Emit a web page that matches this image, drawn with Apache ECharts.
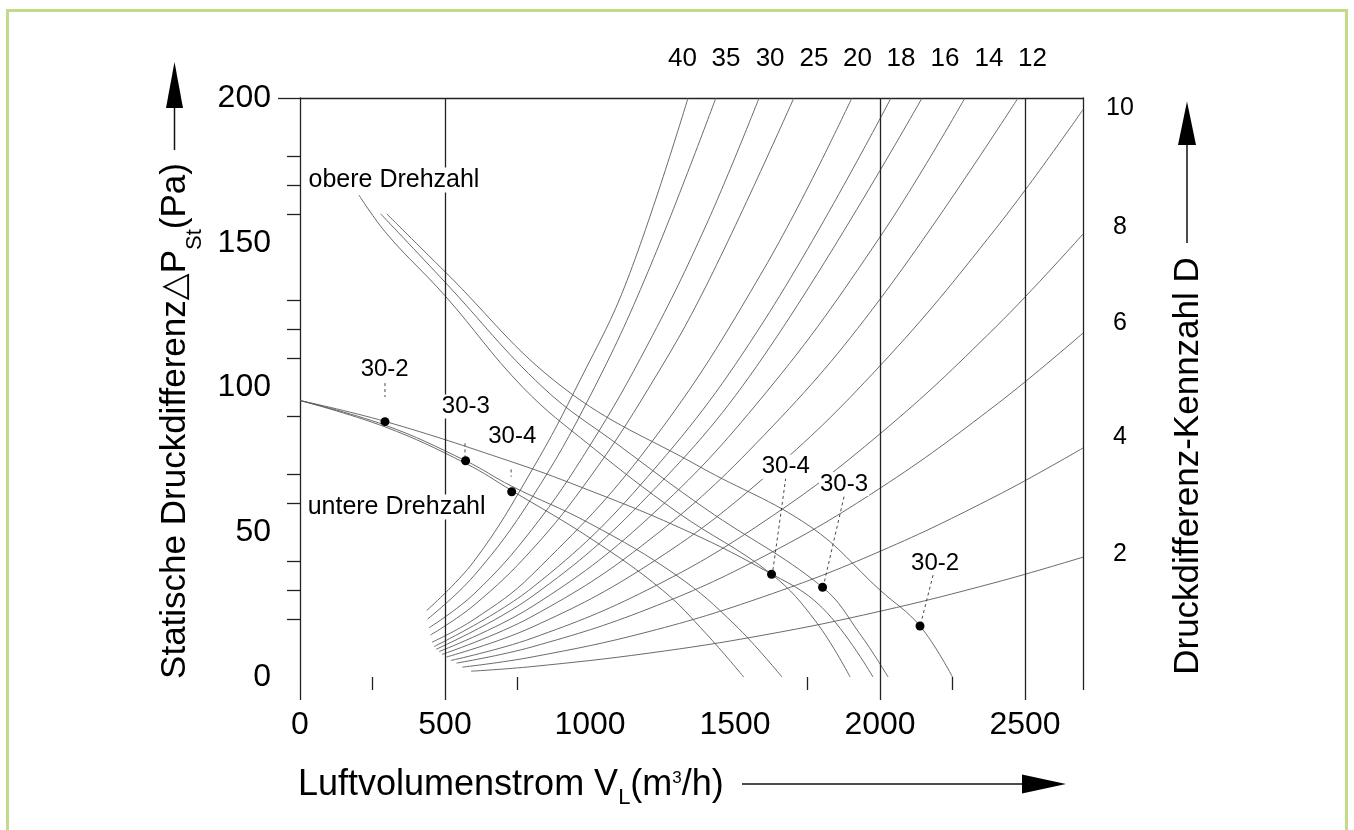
<!DOCTYPE html>
<html>
<head>
<meta charset="utf-8">
<script src="https://cdn.jsdelivr.net/npm/echarts@6/dist/echarts.min.js"></script>
<style>
  html, body { margin: 0; padding: 0; background: #fff; overflow: hidden; }
  #frame { position: absolute; left: 6px; top: 9px; width: 1342px; height: 900px; box-sizing: border-box; border: 3px solid #c3da88; border-bottom: none; }
  #chart { position: absolute; left: 0; top: 0; width: 1354px; height: 830px; }
</style>
</head>
<body>
<div id="frame"></div>
<div id="chart"></div>
<script>
(function () {
  // axis ticks / labels
  const xLabelValues = [0, 500, 1000, 1500, 2000, 2500];
  const xLongTicks = [0, 500, 2000, 2500];
  const xShortTicks = [250, 750, 1750, 2250, 2700];
  const xGridLines = [500, 2000, 2500];
  const yMinorTicks = [180, 170, 160, 130, 120, 110, 90, 70, 60, 40, 30, 20];
  const topLabels = ['40', '35', '30', '25', '20', '18', '16', '14', '12'];
  const topLabelPos = [1319, 1469, 1621, 1772, 1922, 2072, 2224, 2376, 2526];
  const rightLabels = ['10', '8', '6', '4', '2'];
  const rightLabelPos = [196.6, 155.4, 122.1, 82.7, 42.6];

  // system curves (Druckdifferenz-Kennzahl D), [V m3/h, dp Pa]
  const sys40 = [[437, 23], [600, 40], [800, 71.5], [966, 102.6], [1128, 137], [1338, 200]];
  const sys35 = [[440, 20], [600, 35], [800, 62], [1000, 97], [1200, 140], [1434, 200]];
  const sys30 = [[445, 17], [600, 28.7], [800, 51], [1000, 80], [1200, 115], [1400, 156], [1583, 200]];
  const sys25 = [[450, 14.5], [600, 24.8], [800, 44], [1000, 69], [1200, 99.4], [1400, 135], [1703, 200]];
  const sys20 = [[455, 12], [600, 19.9], [800, 35.3], [1200, 79.5], [1600, 141], [1903, 200]];
  const sys18 = [[462, 10.5], [800, 30.8], [1200, 69.3], [1600, 123], [2038, 200]];
  const sys16 = [[470, 9.6], [800, 27.8], [1200, 62.6], [1600, 111], [2145, 200]];
  const sys14 = [[480, 8.8], [800, 24.3], [1200, 54.8], [1600, 97.4], [2000, 152], [2293, 200]];
  const sys12 = [[490, 7.8], [800, 20.9], [1200, 47], [1600, 83.5], [2000, 130.5], [2476, 200]];
  const sys10 = [[505, 6.9], [800, 17.2], [1200, 38.7], [1600, 68.8], [2000, 107.5], [2400, 155], [2700, 196]];
  const sys8 = [[520, 5.7], [800, 13.4], [1200, 30.2], [1600, 53.7], [2000, 84], [2400, 121], [2700, 153]];
  const sys6 = [[540, 4.8], [800, 10.4], [1200, 23.5], [1600, 41.7], [2000, 65.2], [2400, 94], [2700, 118.8]];
  const sys4 = [[560, 3.4], [800, 6.9], [1200, 15.6], [1600, 27.8], [2000, 43.4], [2400, 62.5], [2700, 79.1]];
  const sys2 = [[590, 2], [800, 3.6], [1200, 8.2], [1600, 14.5], [2000, 22.7], [2400, 32.7], [2700, 41.4]];

  // fan curves
  const upper30_2 = [[299, 160], [500, 140], [907, 100], [1379, 72.6], [1759, 52], [2000, 30], [2138, 17.6], [2250, 0]];
  const upper30_3 = [[278, 160], [500, 136.4], [838, 100], [1100, 80], [1400, 58], [1802, 31], [1930, 15], [2028, 0]];
  const upper30_4 = [[203, 166.5], [300, 153], [500, 131.7], [769, 100], [1000, 80], [1300, 57], [1626, 35.5], [1780, 19], [1897, 0]];
  const lower30_2 = [[0, 95.5], [293, 88.3], [728, 74.4], [966, 65.7], [1300, 52], [1600, 37], [1800, 24], [1976, 0]];
  const lower30_3 = [[0, 95.5], [293, 87], [571, 74.7], [728, 66], [1000, 53], [1300, 35], [1500, 18], [1662, 0]];
  const lower30_4 = [[0, 95.5], [293, 86.4], [571, 73.8], [730, 64.4], [1000, 48], [1250, 30], [1400, 15], [1530, 0]];

  // operating points and their labels
  const dots = [[293, 88.2], [571, 74.7], [730, 64.0], [1626, 35.5], [1802, 31.0], [2138, 17.6]];
  const dotNames = ['30-2', '30-3', '30-4', '30-4', '30-3', '30-2'];
  const dotLabelPos = [[292, 106.3], [572, 93.4], [732, 83.0], [1675, 72.6], [1876, 66.7], [2190, 39.4]];
  const leaders = [
    [[293, 103.6], [293, 96.7]],
    [[569, 80.7], [569, 76.1]],
    [[728, 71.7], [728, 69.2]],
    [[1675, 68.7], [1630, 36.4]],
    [[1876, 62.3], [1805, 31.5]],
    [[2183, 35.2], [2140, 18.2]]
  ];
  const noteNames = ['obere Drehzahl', 'untere Drehzahl'];
  const notePos = [[324, 171.7], [333, 58.7]];

  const FONT = '"Liberation Sans", Arial, "DejaVu Sans", sans-serif';
  const AXIS = '#222';
  const LINE = '#5a5a5a';
  const INK = '#000';

  const chart = echarts.init(document.getElementById('chart'));

  function curve(data) {
    return {
      type: 'line', data: data, smooth: 0.4, symbol: 'none', silent: true,
      lineStyle: { color: LINE, width: 0.9 }, z: 2
    };
  }

  const sysCurves = [sys40, sys35, sys30, sys25, sys20, sys18, sys16, sys14, sys12, sys10, sys8, sys6, sys4, sys2];
  const fanCurves = [upper30_2, upper30_3, upper30_4, lower30_2, lower30_3, lower30_4];

  const series = [];
  series.push({
    type: 'line', data: [], silent: true,
    markLine: {
      symbol: ['none', 'none'], silent: true, label: { show: false },
      lineStyle: { color: AXIS, width: 1.3, type: 'solid' },
      data: xGridLines.map((v) => ({ xAxis: v }))
    },
    z: 1
  });
  sysCurves.forEach((d) => series.push(curve(d)));
  fanCurves.forEach((d) => series.push(curve(d)));
  leaders.forEach((d) => series.push({
    type: 'line', data: d, symbol: 'none', silent: true,
    lineStyle: { color: '#333', width: 0.9, type: [3, 3] }, z: 3
  }));
  series.push({
    type: 'scatter', data: dots, symbolSize: 9, silent: true,
    itemStyle: { color: '#000', opacity: 1 }, z: 6
  });
  const textStyle = {
    show: true, position: 'inside', formatter: '{b}', color: INK, opacity: 1,
    textBorderWidth: 0, textBorderColor: 'transparent',
    fontFamily: FONT, backgroundColor: '#fff', padding: [0, 1]
  };
  series.push({
    type: 'scatter', symbolSize: 1, silent: true, itemStyle: { color: '#fff', opacity: 1 }, z: 7,
    label: Object.assign({}, textStyle, { fontSize: 24 }),
    data: dotLabelPos.map((p, i) => ({ name: dotNames[i], value: p }))
  });
  series.push({
    type: 'scatter', symbolSize: 1, silent: true, itemStyle: { color: '#fff', opacity: 1 }, z: 7,
    label: Object.assign({}, textStyle, { fontSize: 25 }),
    data: notePos.map((p, i) => ({ name: noteNames[i], value: p }))
  });

  const noSplit = { show: false };
  const axisLineStyle = { color: AXIS, width: 1.3 };
  const hiddenLine = { show: false, onZero: false, lineStyle: { color: 'rgba(0,0,0,0)', width: 0 } };

  chart.setOption({
    animation: false,
    backgroundColor: 'transparent',
    textStyle: { fontFamily: FONT },
    grid: { left: 300, top: 98, width: 783, height: 579 },
    xAxis: [
      {
        type: 'value', min: 0, max: 2700, position: 'bottom',
        axisLine: hiddenLine, splitLine: noSplit,
        axisTick: { show: true, customValues: xLongTicks, length: 23, lineStyle: axisLineStyle },
        axisLabel: {
          customValues: xLabelValues, margin: 32, fontSize: 32, color: INK, fontFamily: FONT,
          formatter: (v) => String(v)
        }
      },
      {
        type: 'value', min: 0, max: 2700, position: 'bottom',
        axisLine: hiddenLine, splitLine: noSplit,
        axisTick: { show: true, customValues: xShortTicks, length: 13, lineStyle: axisLineStyle },
        axisLabel: { show: false }
      },
      {
        type: 'value', min: 0, max: 2700, position: 'top',
        axisLine: { show: true, onZero: false, lineStyle: axisLineStyle }, splitLine: noSplit,
        axisTick: { show: false },
        axisLabel: {
          customValues: topLabelPos, margin: 26, fontSize: 26, color: INK, fontFamily: FONT,
          formatter: (v) => topLabels[topLabelPos.indexOf(v)]
        }
      }
    ],
    yAxis: [
      {
        type: 'value', min: 0, max: 200, interval: 50, position: 'left',
        axisLine: { show: true, onZero: false, lineStyle: axisLineStyle }, splitLine: noSplit,
        axisTick: { show: true, customValues: [200], length: 22, lineStyle: axisLineStyle },
        axisLabel: { margin: 29, fontSize: 32, color: INK, fontFamily: FONT }
      },
      {
        type: 'value', min: 0, max: 200, position: 'left',
        axisLine: hiddenLine, splitLine: noSplit,
        axisTick: { show: true, customValues: yMinorTicks, length: 13, lineStyle: axisLineStyle },
        axisLabel: { show: false }
      },
      {
        type: 'value', min: 0, max: 200, position: 'right',
        axisLine: { show: true, onZero: false, lineStyle: axisLineStyle }, splitLine: noSplit,
        axisTick: { show: false },
        axisLabel: {
          customValues: rightLabelPos, margin: 37, align: 'center', fontSize: 25, color: INK, fontFamily: FONT,
          formatter: (v) => rightLabels[rightLabelPos.indexOf(v)]
        }
      }
    ],
    graphic: [
      {
        type: 'text', x: 176, y: 421, rotation: Math.PI / 2,
        style: {
          text: '{n|Statische Druckdifferenz△P}{s|St}{n|(Pa)}',
          textAlign: 'center', textVerticalAlign: 'middle', align: 'center', verticalAlign: 'middle',
          fill: INK,
          rich: {
            n: { fontSize: 35, lineHeight: 36, verticalAlign: 'top', fontFamily: FONT, fill: INK },
            s: { fontSize: 22, lineHeight: 22, verticalAlign: 'top', padding: [26, 0, 0, 0], fontFamily: FONT, fill: INK }
          }
        }
      },
      {
        type: 'text', x: 298, y: 785,
        style: {
          text: '{n|Luftvolumenstrom V}{s|L}{n|(m}{p|3}{n|/h)}',
          textAlign: 'left', textVerticalAlign: 'middle', align: 'left', verticalAlign: 'middle',
          fill: INK,
          rich: {
            n: { fontSize: 36, lineHeight: 36, verticalAlign: 'top', fontFamily: FONT, fill: INK },
            s: { fontSize: 22, lineHeight: 22, verticalAlign: 'top', padding: [20, 0, 0, 0], fontFamily: FONT, fill: INK },
            p: { fontSize: 17, lineHeight: 17, verticalAlign: 'top', padding: [3, 0, 0, 0], fontFamily: FONT, fill: INK }
          }
        }
      },
      {
        type: 'text', x: 1188, y: 466, rotation: Math.PI / 2,
        style: {
          text: 'Druckdifferenz-Kennzahl D', font: '35px ' + FONT,
          textAlign: 'center', textVerticalAlign: 'middle', align: 'center', verticalAlign: 'middle',
          fill: INK
        }
      },
      { type: 'line', shape: { x1: 174.5, y1: 150, x2: 174.5, y2: 100 }, style: { stroke: '#111', lineWidth: 1.5 } },
      { type: 'polygon', shape: { points: [[174.5, 62], [166, 108], [183, 108]] }, style: { fill: '#000' } },
      { type: 'line', shape: { x1: 1187, y1: 243, x2: 1187, y2: 140 }, style: { stroke: '#111', lineWidth: 1.5 } },
      { type: 'polygon', shape: { points: [[1187, 101.5], [1178, 145], [1196, 145]] }, style: { fill: '#000' } },
      { type: 'line', shape: { x1: 742, y1: 784, x2: 1030, y2: 784 }, style: { stroke: '#111', lineWidth: 1.5 } },
      { type: 'polygon', shape: { points: [[1066, 784], [1022, 774.5], [1022, 793.5]] }, style: { fill: '#000' } }
    ],
    series: series
  });
})();
</script>
</body>
</html>
